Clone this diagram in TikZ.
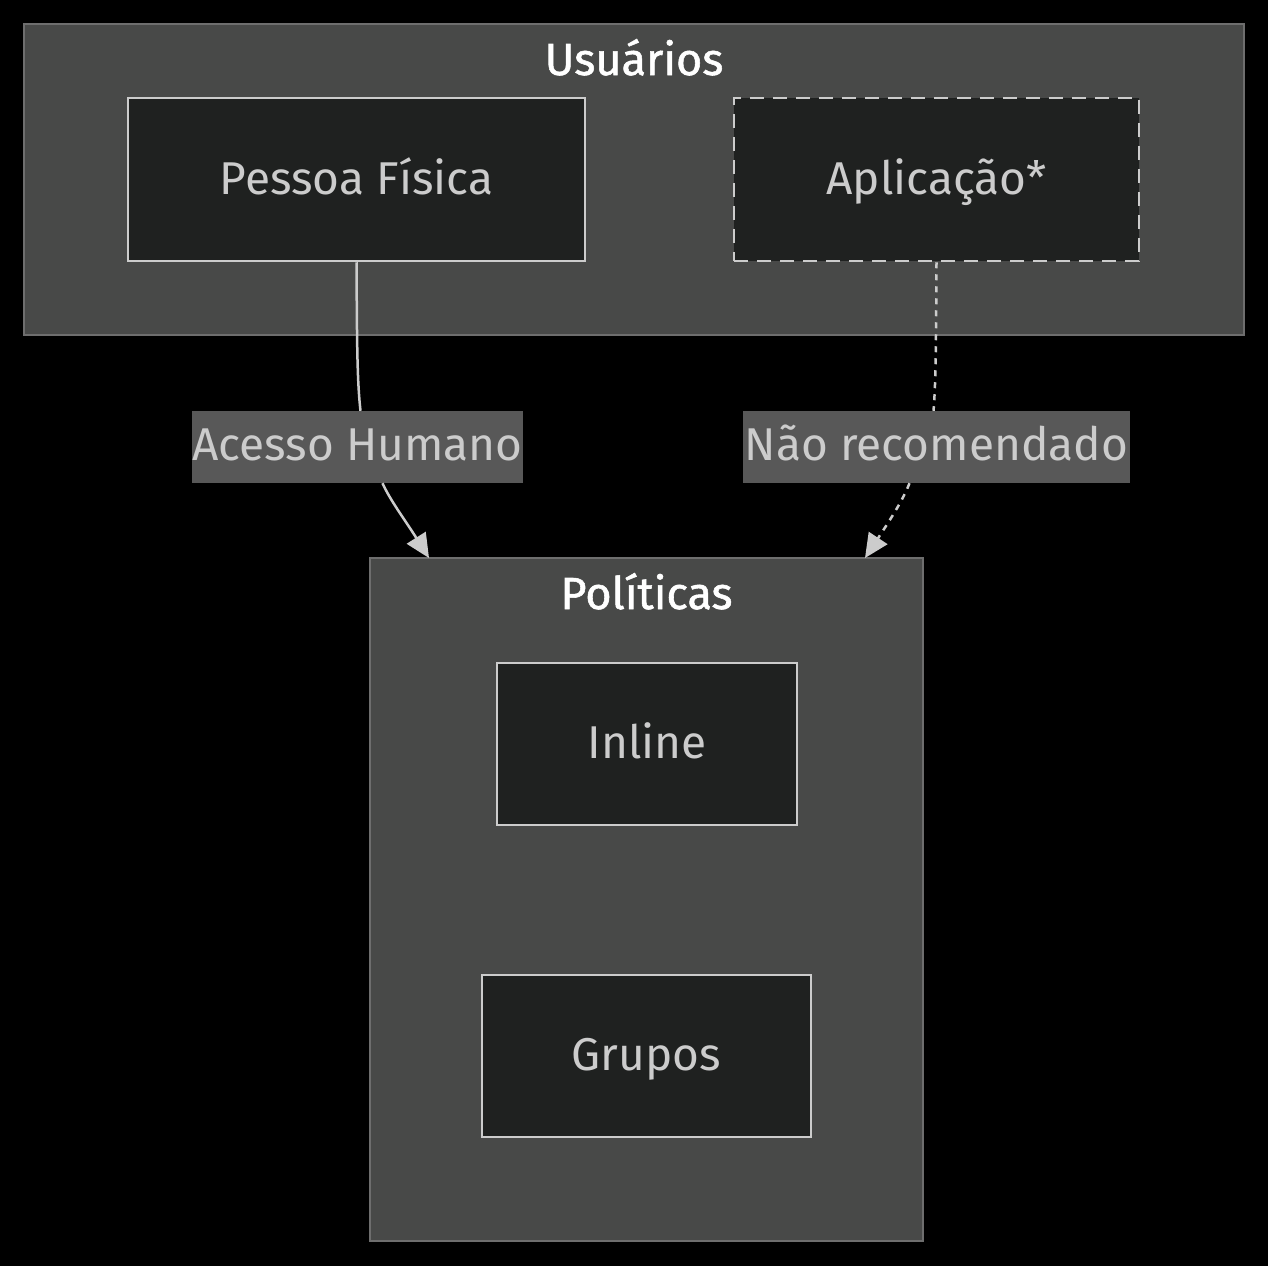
\documentclass[tikz,border=0pt]{standalone}
\usepackage{fontspec}
\setmainfont{Fira Sans}
\newfontfamily\titlefont[FakeBold=1.2]{Fira Sans}
\usetikzlibrary{arrows.meta}
\definecolor{bgc}{HTML}{000000}
\definecolor{clfill}{HTML}{484948}
\definecolor{clline}{HTML}{6E6E6E}
\definecolor{ndfill}{HTML}{1F2120}
\definecolor{ndline}{HTML}{CCCCCC}
\definecolor{txt}{HTML}{CCCCCC}
\definecolor{lblfill}{HTML}{585858}
\begin{document}
\begin{tikzpicture}[x=1pt,y=-1pt,
  cluster/.style={draw=clline, fill=clfill, line width=1.5pt, rectangle, inner sep=0pt},
  cltitle/.style={text=white, font=\titlefont\fontsize{45}{54}\selectfont, inner sep=0pt, anchor=base},
  box/.style={draw=ndline, fill=ndfill, line width=2.5pt, rectangle, inner sep=0pt, text=txt, text height=34pt, text depth=5pt, font=\fontsize{46}{54}\selectfont},
  lbl/.style={fill=lblfill, text=txt, inner sep=0pt, text height=32pt, text depth=6pt, font=\fontsize{46}{54}\selectfont},
  conn/.style={draw=ndline, line width=2.5pt},
  tip/.style={-{Triangle[length=24pt,width=22pt]}}
]
\fill[bgc] (0,0) rectangle (1268,1266);
\useasboundingbox (0,0) rectangle (1268,1266);
% clusters
\node[cluster, minimum width=1220pt, minimum height=311pt] (usr) at (634,179.5) {};
\node[cltitle] (usrt) at (634,75) {Usuários};
\node[cluster, minimum width=553pt, minimum height=683pt] (pol) at (646.5,899.5) {};
\node[cltitle] (polt) at (646.5,609) {Políticas};
% nodes
\node[box, dash pattern=on 14pt off 9pt, minimum width=405pt, minimum height=163pt] (app) at (936.5,179.5) {Aplicação*};
\node[box, minimum width=457pt, minimum height=163pt] (pf) at (356.5,179.5) {Pessoa Física};
\node[box, minimum width=300pt, minimum height=162pt] (inl) at (647,744) {Inline};
\node[box, minimum width=329pt, minimum height=162pt] (grp) at (646.5,1056) {Grupos};
% edge labels
\node[lbl, minimum width=331pt, minimum height=72pt] (l1) at (357.5,447) {Acesso Humano};
\node[lbl, minimum width=387pt, minimum height=72pt] (l2) at (936.5,447) {Não recomendado};
\coordinate (t1) at (429,558);
\coordinate (t2) at (865,558);
% connectors
\draw[conn] (pf.south) .. controls (357,340) and (357,380) .. ([xshift=3pt]l1.north);
\draw[conn, tip] ([xshift=25pt]l1.south) .. controls (390,500) and (405,520) .. (t1);
\draw[conn, dash pattern=on 6pt off 6pt] (app.south) .. controls (936,340) and (936,380) .. ([xshift=-3pt]l2.north);
\draw[conn, tip, dash pattern=on 6pt off 6pt] ([xshift=-27pt]l2.south) .. controls (903,500) and (890,520) .. (t2);
\end{tikzpicture}
\end{document}
